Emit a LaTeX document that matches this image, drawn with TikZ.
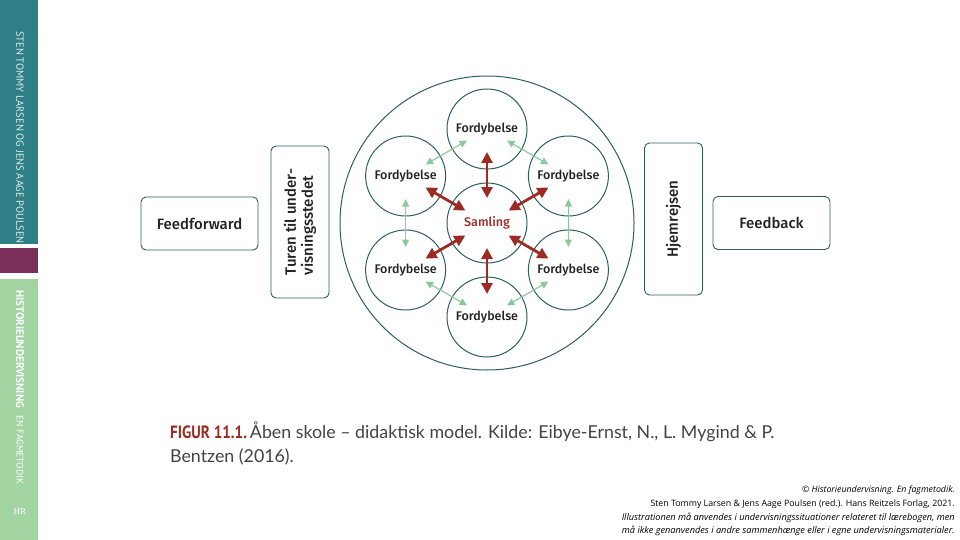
\documentclass[tikz,border=0pt]{standalone}
\usepackage{fontspec}
\setmainfont{Fira Sans}[UprightFont=* Medium]
\newfontfamily\capfont{Lato}
\newfontfamily\notefont{Open Sans}
\newfontfamily\hrfont{Liberation Serif}
\newfontfamily\sidefont{PT Sans}
\newfontfamily\figfont[FakeStretch=0.85]{PT Sans}
\usetikzlibrary{arrows.meta}
\definecolor{teal}{HTML}{2E7F86}
\definecolor{plum}{HTML}{7A2E5A}
\definecolor{mint}{HTML}{A2D4A2}
\definecolor{ring}{HTML}{2D5E61}
\definecolor{wine}{HTML}{9C2B23}
\definecolor{sage}{HTML}{8DC89A}
\definecolor{ink}{HTML}{222222}

\begin{document}
\begin{tikzpicture}[
    x=1pt, y=-1pt,
    hbox/.style={rectangle, rounded corners=5pt, draw=ring, line width=0.9pt,
                 minimum width=117pt, minimum height=53pt,
                 font=\fontsize{15}{18}\selectfont, text=ink},
    vbox/.style={rectangle, rounded corners=5pt, draw=ring, line width=0.9pt,
                 minimum width=152pt, minimum height=58pt, rotate=90,
                 align=left, font=\fontsize{15}{17}\selectfont, text=ink},
    fcirc/.style={circle, draw=ring, line width=1pt, minimum size=80pt,
                  inner sep=0pt, font=\fontsize{12.5}{15}\selectfont, text=ink},
    rarr/.style={{Triangle[length=11pt,width=11pt]}-{Triangle[length=11pt,width=11pt]},
                 line width=2.8pt, wine},
    garr/.style={{Triangle[length=7.5pt,width=7pt]}-{Triangle[length=7.5pt,width=7pt]},
                 line width=1.2pt, sage},
    side/.style={rotate=-90, text=white!85!teal, inner sep=0pt, font=\sidefont},
]

  %% ---- frame and side band ----
  \useasboundingbox (0,0) rectangle (960,540);
  \fill[teal] (0,0)   rectangle (38,244);
  \fill[plum] (0,248) rectangle (38,273);
  \fill[mint] (0,279) rectangle (38,540);
  \node[side, anchor=west, font=\sidefont\fontsize{10.4}{12}\selectfont] (authors) at (20,31)
      {STEN TOMMY LARSEN OG JENS AAGE POULSEN};
  \node[side, anchor=west, text=white, font=\sidefont\bfseries\fontsize{11}{13}\selectfont] (book) at (20,290)
      {HISTORIEUNDERVISNING};
  \node[side, anchor=west, text=white, font=\sidefont\fontsize{9.5}{11}\selectfont] (subtitle) at (20,415)
      {EN FAGMETODIK};
  \node[text=white, font=\hrfont\fontsize{9}{10}\selectfont] (logo) at (20,512) {HR};

  %% ---- outer ring ----
  \node[circle, draw=ring, line width=1pt, minimum size=294pt] (ring) at (487,223) {};

  %% ---- samling and the six fordybelser ----
  \node[fcirc, text=wine] (sam) at (487,223) {Samling};
  \node[fcirc] (f1) at (487,129)   {Fordybelse};
  \node[fcirc] (f2) at (568.4,176) {Fordybelse};
  \node[fcirc] (f3) at (568.4,270) {Fordybelse};
  \node[fcirc] (f4) at (487,317)   {Fordybelse};
  \node[fcirc] (f5) at (405.6,270) {Fordybelse};
  \node[fcirc] (f6) at (405.6,176) {Fordybelse};

  %% ---- boxes either side ----
  \node[hbox] (ff)   at (199.5,223.5) {Feedforward};
  \node[vbox] (tur)  at (300,222)     {Turen til under-\\visningsstedet};
  \node[vbox] (hjem) at (673.5,219)   {Hjemrejsen};
  \node[hbox] (fb)   at (771.5,223)   {Feedback};

  %% ---- red arrows samling <-> fordybelse ----
  \draw[rarr, shorten <=25pt, shorten >=23pt] (sam.center) -- (f1.center);
  \draw[rarr, shorten <=25pt, shorten >=23pt] (sam.center) -- (f2.center);
  \draw[rarr, shorten <=25pt, shorten >=23pt] (sam.center) -- (f3.center);
  \draw[rarr, shorten <=25pt, shorten >=23pt] (sam.center) -- (f4.center);
  \draw[rarr, shorten <=25pt, shorten >=23pt] (sam.center) -- (f5.center);
  \draw[rarr, shorten <=25pt, shorten >=23pt] (sam.center) -- (f6.center);

  %% ---- green arrows between neighbours ----
  \draw[garr, shorten <=23pt, shorten >=23pt] (f1.center) -- (f2.center);
  \draw[garr, shorten <=23pt, shorten >=23pt] (f2.center) -- (f3.center);
  \draw[garr, shorten <=23pt, shorten >=23pt] (f3.center) -- (f4.center);
  \draw[garr, shorten <=23pt, shorten >=23pt] (f4.center) -- (f5.center);
  \draw[garr, shorten <=23pt, shorten >=23pt] (f5.center) -- (f6.center);
  \draw[garr, shorten <=23pt, shorten >=23pt] (f6.center) -- (f1.center);

  %% ---- caption ----
  \node[anchor=north west, align=left, inner sep=0pt, text=ink!85,
        font=\capfont\fontsize{17.8}{24}\selectfont] (cap) at (170,422)
      {{\color{wine}\figfont\bfseries FIGUR 11.1.}\,Åben skole – didaktisk model. Kilde: Eibye-Ernst, N., L. Mygind \& P.\\
       Bentzen (2016).};

  %% ---- rights note ----
  \node[anchor=north east, align=right, inner sep=0pt, text=black,
        font=\notefont\fontsize{8.8}{13.6}\selectfont] (note) at (955,486)
      {\itshape © Historieundervisning. En fagmetodik.\\
       Sten Tommy Larsen \& Jens Aage Poulsen (red.). Hans Reitzels Forlag, 2021.\\
       \itshape\fontsize{9.2}{13.6}\selectfont Illustrationen må anvendes i undervisningssituationer relateret til lærebogen, men\\
       \itshape\fontsize{9.2}{13.6}\selectfont må ikke genanvendes i andre sammenhænge eller i egne undervisningsmaterialer.};

\end{tikzpicture}
\end{document}
